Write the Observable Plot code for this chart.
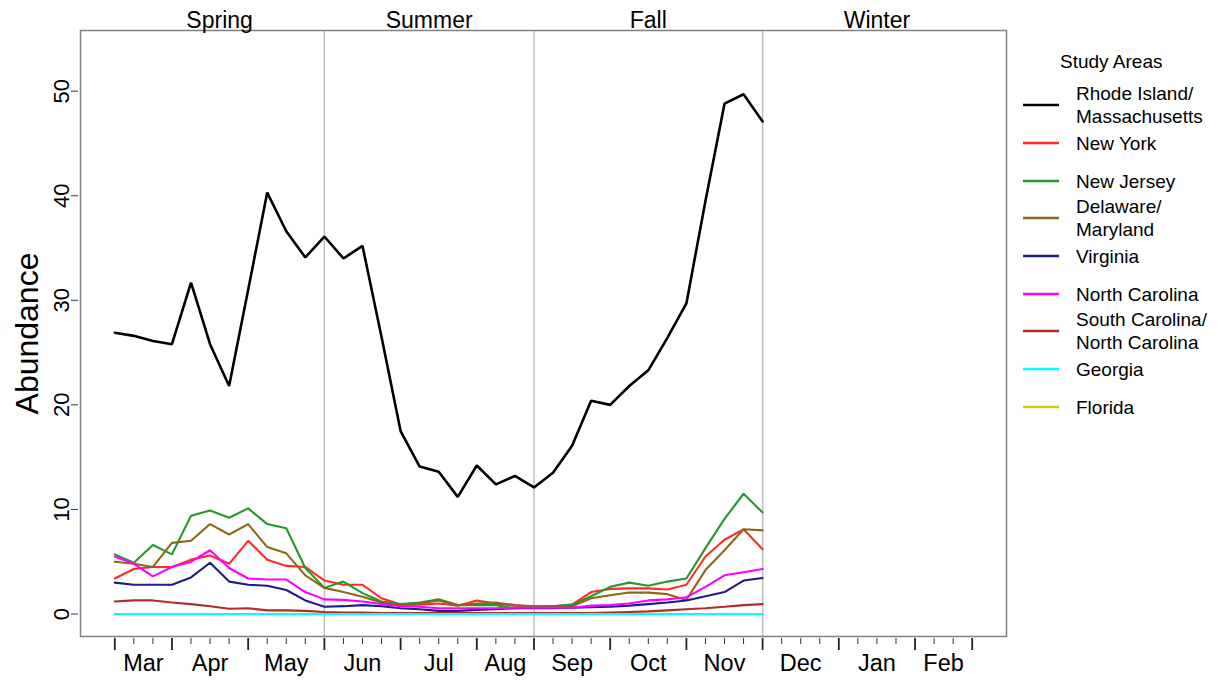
<!DOCTYPE html>
<html>
<head>
<meta charset="utf-8">
<script src="https://cdn.jsdelivr.net/npm/d3@7"></script>
<script src="https://cdn.jsdelivr.net/npm/@observablehq/plot@0.6"></script>
<style>
  html, body { margin: 0; padding: 0; background: #fff; }
  #wrap { position: relative; width: 1221px; height: 682px; font-family: "Liberation Sans", Arial, sans-serif; }
  #chart { position: absolute; left: 0; top: 0; }
  #legend { position: absolute; left: 1010px; top: 0; width: 211px; color: #000; }
  #legend .title { position: absolute; left: 50px; top: 50px; font-size: 19px; line-height: 24px; }
  #legend .item { position: absolute; left: 0; height: 0; }
  #legend .item svg { position: absolute; left: 13px; top: -2px; }
  #legend .item .lab { position: absolute; left: 66px; transform: translateY(-50%); font-size: 19px; line-height: 23px; white-space: nowrap; }
</style>
</head>
<body>
<div id="wrap"><div id="chart"></div><div id="legend"></div></div>
<script>
// ---- data (weekly abundance, week 0 = first week of March) ----
const areaNames = ["Rhode Island/\nMassachusetts", "New York", "New Jersey", "Delaware/\nMaryland", "Virginia", "North Carolina", "South Carolina/\nNorth Carolina", "Georgia", "Florida"];
const areaColors = ["#000000", "#ff2a2a", "#22992a", "#8b6914", "#1c1c8a", "#ff00ff", "#b22a2a", "#00ffff", "#cccc11"];

const riMa = [26.9, 26.6, 26.1, 25.8, 31.7, 25.8, 21.8, 31.0, 40.3, 36.6, 34.1, 36.1, 34.0, 35.2, 26.5, 17.5, 14.1, 13.6, 11.2, 14.2, 12.4, 13.2, 12.1, 13.5, 16.1, 20.4, 20.0, 21.8, 23.3, 26.4, 29.7, 39.5, 48.8, 49.7, 47.1];
const newYork = [3.4, 4.3, 4.5, 4.5, 5.2, 5.6, 4.8, 7.0, 5.2, 4.6, 4.5, 3.2, 2.8, 2.8, 1.5, 0.9, 0.9, 1.0, 0.8, 1.3, 1.0, 0.8, 0.7, 0.75, 0.9, 2.1, 2.4, 2.45, 2.45, 2.35, 2.8, 5.5, 7.1, 8.1, 6.2];
const newJersey = [5.7, 4.9, 6.6, 5.7, 9.4, 9.9, 9.2, 10.1, 8.6, 8.2, 4.4, 2.5, 3.1, 2.0, 1.2, 0.95, 1.1, 1.4, 0.85, 0.85, 0.85, 0.55, 0.7, 0.75, 0.9, 1.7, 2.6, 3.0, 2.7, 3.1, 3.4, 6.3, 9.1, 11.5, 9.7];
const delMd = [5.0, 4.8, 4.5, 6.8, 7.0, 8.6, 7.6, 8.6, 6.4, 5.8, 3.7, 2.5, 2.1, 1.65, 1.1, 0.85, 1.0, 1.3, 0.85, 1.0, 1.1, 0.85, 0.75, 0.7, 0.75, 1.5, 1.8, 2.05, 2.05, 1.9, 1.35, 4.2, 6.1, 8.1, 8.0];
const virginia = [3.0, 2.8, 2.8, 2.8, 3.5, 4.9, 3.1, 2.8, 2.7, 2.3, 1.3, 0.7, 0.75, 0.85, 0.75, 0.55, 0.45, 0.3, 0.3, 0.4, 0.45, 0.55, 0.55, 0.55, 0.6, 0.65, 0.7, 0.8, 0.95, 1.1, 1.3, 1.7, 2.1, 3.2, 3.45];
const northCarolina = [5.5, 4.8, 3.6, 4.5, 5.0, 6.1, 4.4, 3.4, 3.3, 3.3, 2.1, 1.4, 1.35, 1.2, 0.95, 0.75, 0.7, 0.55, 0.55, 0.55, 0.55, 0.6, 0.6, 0.6, 0.6, 0.8, 0.85, 1.0, 1.3, 1.4, 1.6, 2.6, 3.7, 4.0, 4.3];
const scNc = [1.2, 1.3, 1.3, 1.1, 0.95, 0.75, 0.5, 0.55, 0.35, 0.35, 0.3, 0.2, 0.15, 0.15, 0.1, 0.1, 0.1, 0.1, 0.1, 0.1, 0.1, 0.1, 0.1, 0.1, 0.1, 0.1, 0.15, 0.2, 0.25, 0.35, 0.45, 0.55, 0.7, 0.85, 0.95];
const georgia = [0, 0, 0, 0, 0, 0, 0, 0, 0, 0, 0, 0, 0, 0, 0, 0, 0, 0, 0, 0, 0, 0, 0, 0, 0, 0, 0, 0, 0, 0, 0, 0, 0, 0, 0];
const florida = [0, 0, 0, 0, 0, 0, 0, 0, 0, 0, 0, 0, 0, 0, 0, 0, 0, 0, 0, 0, 0, 0, 0, 0, 0, 0, 0, 0, 0, 0, 0, 0, 0, 0, 0];
const areaValues = [riMa, newYork, newJersey, delMd, virginia, northCarolina, scNc, georgia, florida];
// drawing order (Florida under Georgia)
const drawOrder = [0, 1, 2, 3, 4, 5, 6, 8, 7];

// ---- axis / labels ----
const monthNames = ["Mar", "Apr", "May", "Jun", "Jul", "Aug", "Sep", "Oct", "Nov", "Dec", "Jan", "Feb"];
const monthBreaks = [0, 3, 7, 11, 15, 19, 22, 26, 30, 34, 38, 42, 45];
const seasonNames = ["Spring", "Summer", "Fall", "Winter"];
const seasonBreaks = [11, 22, 34];
const seasonCenters = [5.5, 16.5, 28, 40];
const yTicks = [0, 10, 20, 30, 40, 50];

const monthLabels = monthNames.map((m, i) => ({x: (monthBreaks[i] + monthBreaks[i + 1]) / 2, text: m}));
const seasonLabels = seasonNames.map((s, i) => ({x: seasonCenters[i], text: s}));
const minorWeeks = d3.range(0, 46).filter(w => !monthBreaks.includes(w));

const lineMarks = drawOrder.map(k => Plot.line(areaValues[k], {
  x: (d, i) => i, y: d => d,
  stroke: areaColors[k], strokeWidth: k === 0 ? 2.6 : 2.1, strokeLinejoin: "miter"
}));

const plot = Plot.plot({
  width: 1010, height: 682,
  marginLeft: 80, marginRight: 4, marginTop: 30, marginBottom: 46,
  x: {domain: [-1.8, 46.8]},
  y: {domain: [-2.15, 55.8]},
  style: {fontFamily: "Liberation Sans, Arial, sans-serif", fontSize: "20px", background: "white", color: "#000", overflow: "visible"},
  marks: [
    Plot.ruleX(seasonBreaks, {stroke: "#bdbdbd", strokeWidth: 1.5}),
    ...lineMarks,
    Plot.frame({stroke: "#808080", strokeWidth: 1.5}),
    Plot.axisX(monthBreaks, {anchor: "bottom", tickSize: 12, tickFormat: () => "", dy: 2, strokeWidth: 1.8, stroke: "#222", label: null}),
    Plot.axisX(minorWeeks, {anchor: "bottom", tickSize: 6, tickFormat: () => "", dy: 2, strokeWidth: 1, stroke: "#333", label: null}),
    Plot.text(monthLabels, {x: "x", text: "text", frameAnchor: "bottom", lineAnchor: "middle", dy: 27, fontSize: 23.5, fill: "#000"}),
    Plot.text(seasonLabels, {x: "x", text: "text", frameAnchor: "top", lineAnchor: "middle", dy: -10, fontSize: 23, fill: "#000"}),
    Plot.axisY(yTicks, {anchor: "left", tickSize: 7, dx: -2, tickFormat: () => "", stroke: "#333", label: null}),
    Plot.text(yTicks, {y: d => d, text: d => String(d), frameAnchor: "left", textAnchor: "middle", lineAnchor: "middle", dx: -19, rotate: -90, fontSize: 22, fill: "#000"}),
    Plot.text(["Abundance"], {frameAnchor: "left", textAnchor: "middle", lineAnchor: "middle", dx: -53, rotate: -90, fontSize: 32, fill: "#000"})
  ]
});
document.getElementById("chart").appendChild(plot);

// ---- legend ----
const legendCenters = [105, 143.3, 180.5, 218.3, 256, 294, 331, 369, 406.7];
const legend = document.getElementById("legend");
const title = document.createElement("div");
title.className = "title";
title.textContent = "Study Areas";
legend.appendChild(title);
areaNames.forEach((name, i) => {
  const item = document.createElement("div");
  item.className = "item";
  item.style.top = legendCenters[i] + "px";
  item.innerHTML = `<svg width="40" height="4"><line x1="0" x2="36" y1="2" y2="2" stroke="${areaColors[i]}" stroke-width="2.4"/></svg>`;
  const lab = document.createElement("div");
  lab.className = "lab";
  lab.innerHTML = name.split("\n").join("<br>");
  item.appendChild(lab);
  legend.appendChild(item);
});
</script>
</body>
</html>
